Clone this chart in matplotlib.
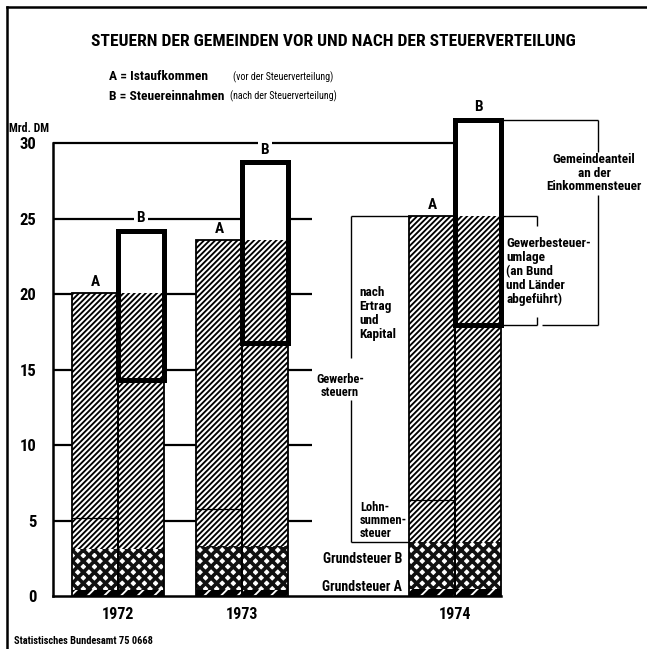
import matplotlib
matplotlib.use("Agg")
import matplotlib.pyplot as plt
from matplotlib import font_manager as fm
from matplotlib.lines import Line2D
import numpy as np

# ---------------- data (Mrd. DM) ----------------
years = ["1972", "1973", "1974"]
grundsteuer_a = [0.4, 0.4, 0.45]
grundsteuer_b = [2.7, 2.9, 3.15]
lohnsummensteuer = [2.1, 2.45, 2.75]
ertrag_kapital = [14.85, 17.85, 18.85]
gewerbesteuerumlage = [5.75, 6.85, 7.25]
gemeindeanteil_est = [9.9, 12.0, 13.6]
yticks = [0, 5, 10, 15, 20, 25, 30]

# ---------------- fonts ----------------
names = {f.name for f in fm.fontManager.ttflist}
cands = ["Roboto Condensed", "Liberation Sans Narrow", "Roboto", "Liberation Sans"]
main = next((c for c in cands if c in names), "DejaVu Sans")
plt.rcParams["font.family"] = [main, "DejaVu Sans"]
plt.rcParams["font.weight"] = "bold"
plt.rcParams["hatch.linewidth"] = 1.35

W, H = 647, 649
fig = plt.figure(figsize=(W / 100, H / 100), dpi=100)

ax_left, ax_right, ax_bottom, ax_top = 53, 647, 596, 98
ax = fig.add_axes([ax_left / W, (H - ax_bottom) / H,
                   (ax_right - ax_left) / W, (ax_bottom - ax_top) / H])
ax.set_xlim(-0.524, 4.266)
ax.set_ylim(0, 33)

gx = np.array([0.0, 1.0, 2.72])
w = 0.37
xa = gx - w / 2
xb = gx + w / 2

ga = np.array(grundsteuer_a)
gb = np.array(grundsteuer_b)
ls = np.array(lohnsummensteuer)
ek = np.array(ertrag_kapital)
um = np.array(gewerbesteuerumlage)
ge = np.array(gemeindeanteil_est)

grund_top = ga + gb
a_top = grund_top + ls + ek
b_lower = a_top - um
b_total = b_lower + ge

# ---------------- gridlines ----------------
for t in [5, 10, 15, 20, 25]:
    ax.plot([-0.524, 1.565], [t, t], color="black", lw=1.6, zorder=1,
            solid_capstyle="butt")
ax.plot([-0.524, xb[2] - w / 2], [30, 30], color="black", lw=1.6, zorder=1,
        solid_capstyle="butt")

# ---------------- bars ----------------
K = dict(width=w, linewidth=0, zorder=3)
HATCH = "//////"


def dotted(bars):
    for p in bars:
        try:
            p.set_hatch_linewidth(2.6)
        except AttributeError:
            pass


# Grundsteuer A
ax.bar(xa, ga, color="black", edgecolor="white", hatch="//", **K)
ax.bar(xb, ga, color="black", edgecolor="white", hatch="//", **K)
# Grundsteuer B (dark with white dots)
dotted(ax.bar(xa, gb, bottom=ga, color="white", edgecolor="#111111", hatch="xxx", **K))
dotted(ax.bar(xb, gb, bottom=ga, color="white", edgecolor="#111111", hatch="xxx", **K))
# Gewerbesteuer (A column: Lohnsumme + Ertrag/Kapital)
ax.bar(xa, ls, bottom=grund_top, color="white", edgecolor="black", hatch=HATCH, **K)
ax.bar(xa, ek, bottom=grund_top + ls, color="white", edgecolor="black", hatch=HATCH, **K)
# Gemeindeanteil box (white fill behind)
ax.bar(xb, ge, bottom=b_lower, color="white", edgecolor="none", width=w, zorder=2)
# B column: Gewerbesteuer remaining + Umlage
ax.bar(xb, b_lower - grund_top, bottom=grund_top, color="white", edgecolor="black",
       hatch=HATCH, **K)
ax.bar(xb, um, bottom=b_lower, color="white", edgecolor="black", hatch=HATCH, **K)

# outlines
ax.bar(xa, a_top, width=w, fill=False, edgecolor="black", lw=1.3, zorder=4)
ax.bar(xb, b_lower, width=w, fill=False, edgecolor="black", lw=1.3, zorder=4)
for i in range(3):
    ax.plot([xa[i] - w / 2, xa[i] + w / 2], [grund_top[i] + ls[i]] * 2,
            color="black", lw=0.9, zorder=4)
ax.bar(xb, ge, bottom=b_lower, width=w, fill=False, edgecolor="black",
       lw=3.6, zorder=5, joinstyle="miter")

# A / B labels
for i in range(3):
    ax.annotate("A", (xa[i], a_top[i]), xytext=(0, 3), textcoords="offset points",
                ha="center", va="bottom", fontsize=11, fontweight="bold", zorder=6)
    ax.annotate("B", (xb[i], b_total[i]), xytext=(0, 4), textcoords="offset points",
                ha="center", va="bottom", fontsize=11, fontweight="bold", zorder=6,
                bbox=dict(boxstyle="square,pad=0.15", fc="white", ec="none"))

# ---------------- axes styling ----------------
for s in ["top", "right"]:
    ax.spines[s].set_visible(False)
ax.spines["left"].set_linewidth(1.8)
ax.spines["bottom"].set_linewidth(1.8)
ax.spines["left"].set_bounds(0, 30)
ax.spines["bottom"].set_bounds(-0.524, xb[2] + w / 2)
ax.set_yticks(yticks)
ax.set_yticklabels([str(t) for t in yticks], fontsize=12, fontweight="bold")
ax.set_xticks(gx)
ax.set_xticklabels(years, fontsize=11.5, fontweight="bold")
ax.tick_params(axis="y", length=0, pad=12)
ax.tick_params(axis="x", length=0, pad=8)
ax.patch.set_visible(False)

# ---------------- annotations ----------------
lk = dict(color="black", lw=1.0, zorder=2, solid_capstyle="butt")
# Gewerbesteuern bracket
bx = 1.879
ax.plot([bx, xa[2] - w / 2], [a_top[2]] * 2, **lk)
ax.plot([bx, bx], [a_top[2], 15.8], **lk)
ax.plot([bx, bx], [13.0, grund_top[2]], **lk)
ax.plot([bx, xa[2] - w / 2], [grund_top[2]] * 2, **lk)
tk = dict(fontsize=9.5, fontweight="bold", zorder=6)
ax.text(1.79, 13.9, "Gewerbe-\nsteuern", ha="center", va="center",
        linespacing=1.0, fontsize=9, fontweight="bold", zorder=6)
ax.text(1.944, 18.75, "nach\nErtrag\nund\nKapital", ha="left", va="center",
        linespacing=1.1, **tk)
ax.text(1.95, 5.0, "Lohn-\nsummen-\nsteuer", ha="left", va="center",
        linespacing=1.0, fontsize=9, fontweight="bold", zorder=6)
ax.text(2.29, 2.45, "Grundsteuer B", ha="right", va="center",
        fontsize=10, fontweight="bold")
ax.text(2.29, 0.6, "Grundsteuer A", ha="right", va="center",
        fontsize=10, fontweight="bold")

# Gewerbesteuerumlage bracket
rx = xb[2] + w / 2
ux = 3.379
ax.plot([rx, ux], [a_top[2]] * 2, **lk)
ax.plot([ux, ux], [a_top[2], a_top[2] - 0.7], **lk)
ax.plot([rx, ux], [b_lower[2]] * 2, **lk)
ax.plot([ux, ux], [b_lower[2], b_lower[2] + 0.55], **lk)
ax.text(3.13, 21.5, "Gewerbesteuer-\numlage\n(an Bund\nund Länder\nabgeführt)",
        ha="left", va="center", linespacing=1.1, **tk)

# Gemeindeanteil bracket
gxr = 3.871
ax.plot([rx, gxr], [b_total[2]] * 2, **lk)
ax.plot([gxr, gxr], [b_total[2], 29.4], **lk)
ax.plot([gxr, gxr], [26.6, b_lower[2]], **lk)
ax.plot([3.419, gxr], [b_lower[2]] * 2, **lk)
ax.text(3.84, 28.0, "Gemeindeanteil\nan der\nEinkommensteuer", ha="center",
        va="center", linespacing=1.05, fontsize=9.5, fontweight="bold", zorder=6)

# ---------------- figure texts ----------------
def ftext(x, y, s, **kw):
    fig.text(x / W, 1 - y / H, s, **kw)

ftext(333, 41, "STEUERN DER GEMEINDEN VOR UND NACH DER STEUERVERTEILUNG",
      ha="center", va="center", fontsize=12.6, fontweight="bold")
ftext(109, 77, "A = Istaufkommen", ha="left", va="center", fontsize=9.7,
      fontweight="bold")
ftext(109, 96, "B = Steuereinnahmen", ha="left", va="center", fontsize=9.7,
      fontweight="bold")
ftext(233, 77, "(vor der Steuerverteilung)", ha="left", va="center", fontsize=7.2,
      fontweight="normal")
ftext(230, 96, "(nach der Steuerverteilung)", ha="left", va="center", fontsize=7.2,
      fontweight="normal")
ftext(9, 128, "Mrd. DM", ha="left", va="center", fontsize=8.5, fontweight="bold")
ftext(14, 641, "Statistisches Bundesamt 75 0668", ha="left", va="center",
      fontsize=7.5, fontweight="bold")

# frame lines (top and left)
fig.add_artist(Line2D([7 / W, 1.0], [1 - 7 / H, 1 - 7 / H], color="black",
                      lw=1.8, transform=fig.transFigure))
fig.add_artist(Line2D([7 / W, 7 / W], [1 - 7 / H, 0.0], color="black",
                      lw=1.8, transform=fig.transFigure))

fig.savefig("out.png", dpi=100)
